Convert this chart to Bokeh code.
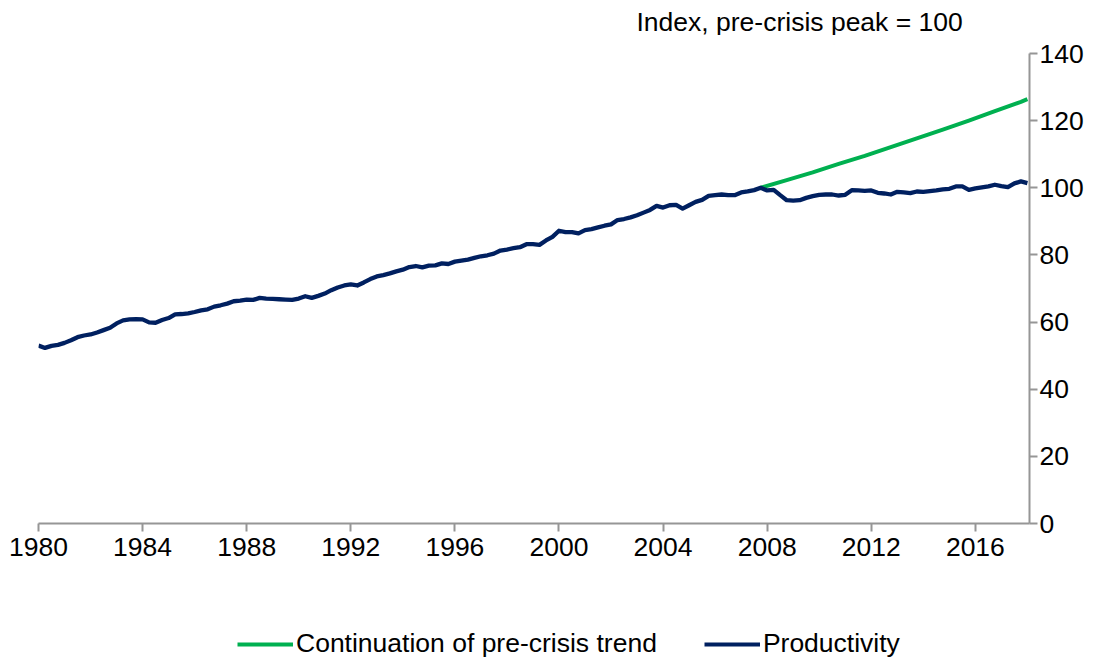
from bokeh.plotting import figure
from bokeh.models import Range1d, FixedTicker, Legend, LegendItem, Label
from bokeh.layouts import column
from bokeh.embed import file_html
from bokeh.resources import INLINE

# ---- data (quarterly, 1980 Q1 - 2018 Q1) ----
start_year = 1980
productivity = [
    53.0, 52.3, 52.9, 53.2,   # 1980
    53.8, 54.6, 55.5, 56.0,   # 1981
    56.3, 56.9, 57.6, 58.3,   # 1982
    59.6, 60.5, 60.8, 60.9,   # 1983
    60.8, 59.9, 59.8, 60.6,   # 1984
    61.2, 62.3, 62.4, 62.6,   # 1985
    63.0, 63.5, 63.8, 64.6,   # 1986
    65.0, 65.5, 66.2, 66.4,   # 1987
    66.7, 66.6, 67.2, 67.0,   # 1988
    66.9, 66.8, 66.7, 66.6,   # 1989
    67.0, 67.7, 67.2, 67.8,   # 1990
    68.5, 69.5, 70.3, 70.9,   # 1991
    71.2, 70.9, 71.8, 72.8,   # 1992
    73.6, 74.0, 74.5, 75.1,   # 1993
    75.6, 76.4, 76.7, 76.3,   # 1994
    76.8, 76.9, 77.5, 77.3,   # 1995
    78.0, 78.3, 78.6, 79.1,   # 1996
    79.6, 79.9, 80.4, 81.3,   # 1997
    81.6, 82.0, 82.3, 83.2,   # 1998
    83.2, 83.0, 84.3, 85.4,   # 1999
    87.2, 86.8, 86.8, 86.4,   # 2000
    87.4, 87.7, 88.2, 88.7,   # 2001
    89.1, 90.4, 90.7, 91.2,   # 2002
    91.8, 92.6, 93.4, 94.6,   # 2003
    94.1, 94.8, 94.9, 93.8,   # 2004
    94.8, 95.8, 96.4, 97.6,   # 2005
    97.8, 98.0, 97.8, 97.8,   # 2006
    98.6, 98.9, 99.3, 100.0,  # 2007
    99.2, 99.4, 97.8, 96.3,   # 2008
    96.2, 96.3, 97.0, 97.5,   # 2009
    97.9, 98.0, 98.0, 97.7,   # 2010
    97.9, 99.3, 99.2, 99.1,   # 2011
    99.2, 98.5, 98.3, 98.0,   # 2012
    98.8, 98.6, 98.4, 98.9,   # 2013
    98.8, 99.0, 99.2, 99.5,   # 2014
    99.7, 100.4, 100.4, 99.4, # 2015
    99.8, 100.1, 100.4, 100.9,# 2016
    100.5, 100.2, 101.3, 101.9,# 2017
    101.4,                    # 2018
]
prod_x = [start_year + i / 4 for i in range(len(productivity))]

trend_x = [2007.75, 2008.75, 2009.75, 2010.75, 2011.75, 2012.75,
           2013.75, 2014.75, 2015.75, 2016.75, 2017.75, 2018.0]
trend_values = [100.0, 102.3, 104.6, 107.1, 109.5, 112.1,
                114.7, 117.3, 120.0, 122.8, 125.6, 126.4]

x_ticks = [1980, 1984, 1988, 1992, 1996, 2000, 2004, 2008, 2012, 2016]
y_ticks = [0, 20, 40, 60, 80, 100, 120, 140]

title_text = "Index, pre-crisis peak = 100"
label_trend = "Continuation of pre-crisis trend"
label_prod = "Productivity"

FONT = "Liberation Sans"
FS = "26.5px"
GREEN = "#00B050"
NAVY = "#002060"
AXIS = "#969696"

W = 1100
TH, H, LH = 35, 547, 78   # title strip, main chart, legend strip


def strip(height):
    f = figure(width=W, height=height, output_backend="svg", toolbar_location=None,
               x_range=Range1d(0, 1), y_range=Range1d(0, 1),
               min_border_left=0, min_border_right=0, min_border_top=0,
               min_border_bottom=0)
    f.axis.visible = False
    f.grid.visible = False
    f.outline_line_color = None
    return f


# title strip
tf = strip(TH)
tf.add_layout(Label(x=598, y=14, x_units="screen", y_units="screen",
                    text=title_text, text_font=FONT, text_font_size=FS,
                    text_baseline="middle", text_align="left", text_color="black"))

# main chart
p = figure(width=W, height=H, output_backend="svg", toolbar_location=None,
           x_range=Range1d(1980, 2018.08), y_range=Range1d(0, 140),
           y_axis_location="right",
           min_border_left=38, min_border_right=W - 1029, min_border_top=53 - TH,
           min_border_bottom=H - (523 - TH))
p.outline_line_color = None
p.xgrid.visible = False
p.ygrid.visible = False

g = p.line(trend_x, trend_values, line_color=GREEN, line_width=4, line_join="round")
n = p.line(prod_x, productivity, line_color=NAVY, line_width=4.3, line_join="round")

for ax in (p.xaxis[0], p.yaxis[0]):
    ax.axis_line_color = AXIS
    ax.axis_line_width = 2
    ax.major_tick_line_color = AXIS
    ax.major_tick_line_width = 2
    ax.major_tick_in = 0
    ax.major_tick_out = 8
    ax.minor_tick_line_color = None
    ax.major_label_text_font = FONT
    ax.major_label_text_font_size = FS
    ax.major_label_text_color = "black"

p.xaxis[0].ticker = FixedTicker(ticks=x_ticks)
p.yaxis[0].ticker = FixedTicker(ticks=y_ticks)
p.xaxis[0].major_label_standoff = 6
p.yaxis[0].major_label_standoff = 2

# legend strip: same series drawn outside its visible range, only the legend shows
lf = strip(LH)
lg = lf.line(trend_x, trend_values, line_color=GREEN, line_width=4)
ln = lf.line(prod_x, productivity, line_color=NAVY, line_width=4)

legend = Legend(items=[LegendItem(label=label_trend, renderers=[lg]),
                       LegendItem(label=label_prod, renderers=[ln])],
                orientation="horizontal", location=(199, 1),
                glyph_width=56, glyph_height=20, label_standoff=3, spacing=47,
                padding=0, margin=0, border_line_color=None,
                background_fill_alpha=0,
                label_text_font=FONT, label_text_font_size=FS,
                label_text_color="black")
lf.add_layout(legend, "center")

open("out.html", "w").write(file_html(column(tf, p, lf, spacing=0), INLINE))
